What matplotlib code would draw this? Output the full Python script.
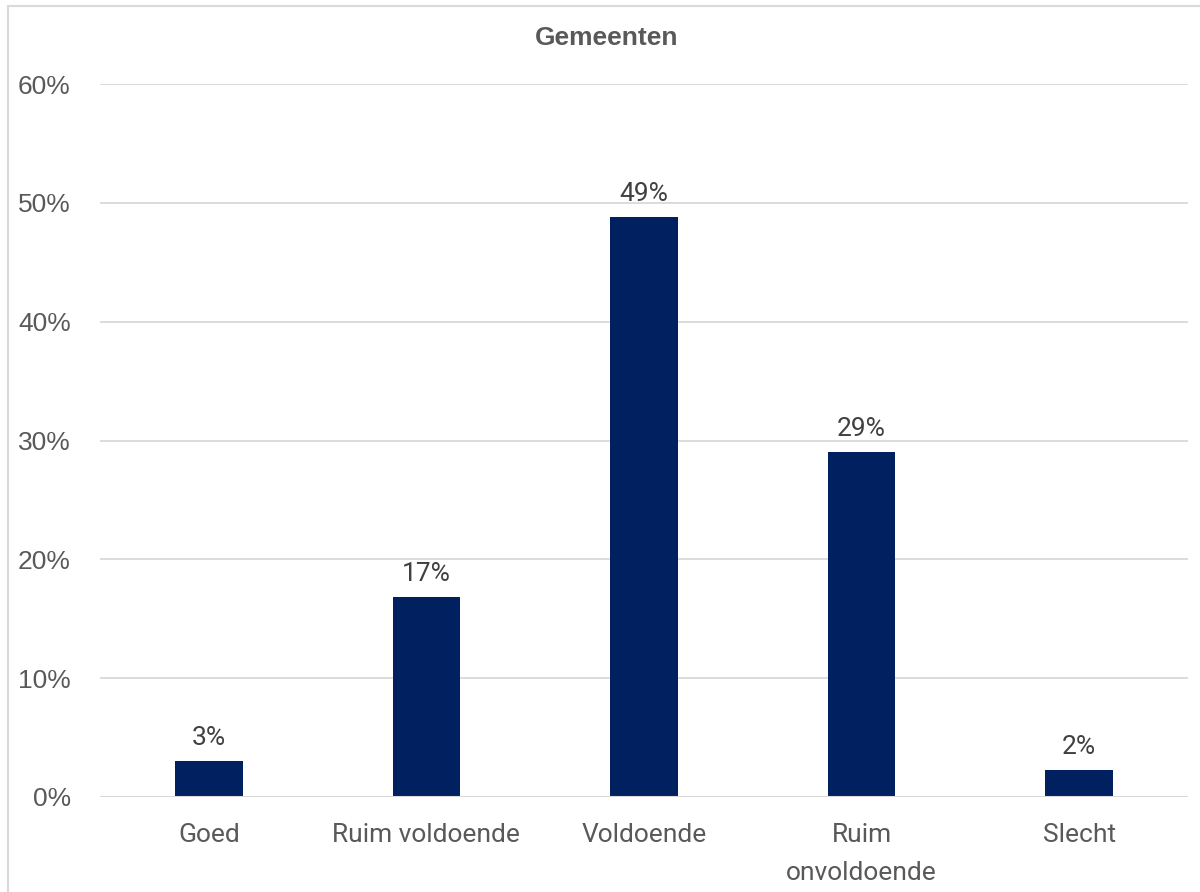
import matplotlib
matplotlib.use("Agg")
import matplotlib.pyplot as plt
from matplotlib.patches import Rectangle
from matplotlib import font_manager as fm

categories = ["Goed", "Ruim voldoende", "Voldoende", "Ruim\nonvoldoende", "Slecht"]
values = [3.0, 16.8, 48.8, 29.0, 2.3]
value_labels = ["3%", "17%", "49%", "29%", "2%"]
yticks = [0, 10, 20, 30, 40, 50, 60]
title = "Gemeenten"

names = {f.name for f in fm.fontManager.ttflist}
narrow = "Liberation Sans Narrow" if "Liberation Sans Narrow" in names else "Roboto"
base = "Liberation Sans"

fig = plt.figure(figsize=(12, 8.92), dpi=100)
fig.patch.set_facecolor("white")
ax = fig.add_axes([100/1200, 1-797/892, 1088/1200, (797-84)/892])

x = list(range(len(categories)))
bars = ax.bar(x, values, width=0.31, color="#002060", zorder=3)
ax.set_xlim(-0.5, len(categories)-0.5)
ax.set_ylim(0, 60)
ax.set_yticks(yticks)
ax.set_yticklabels([f"{t}%" for t in yticks], fontsize=19, color="#595959", family=base)
ax.tick_params(axis="y", length=0, pad=21)
ax.tick_params(axis="x", length=0, pad=19)
ax.set_xticks(x)
ax.set_xticklabels(categories, fontsize=19, color="#595959", family=narrow, linespacing=1.7, va="top")
ax.grid(axis="y", color="#d9d9d9", linewidth=1.3, zorder=0)
for s in ax.spines.values():
    s.set_visible(False)
ax.axhline(0, color="#d9d9d9", linewidth=1.5, zorder=4)

for xi, v, lab in zip(x, values, value_labels):
    ax.annotate(lab, (xi, v), xytext=(0, 8), textcoords="offset points",
                ha="center", va="bottom", fontsize=19, color="#404040", family=narrow)

fig.text(607/1200, 1-38/892, title, ha="center", va="center", fontsize=19,
         fontweight="bold", color="#595959", family=base)

fig.patches.append(Rectangle((8/1200, -0.1), 1.2, 1-6/892+0.1, transform=fig.transFigure,
                             fill=False, edgecolor="#d9d9d9", linewidth=1.5))

fig.savefig("out.png", dpi=100, facecolor="white")
